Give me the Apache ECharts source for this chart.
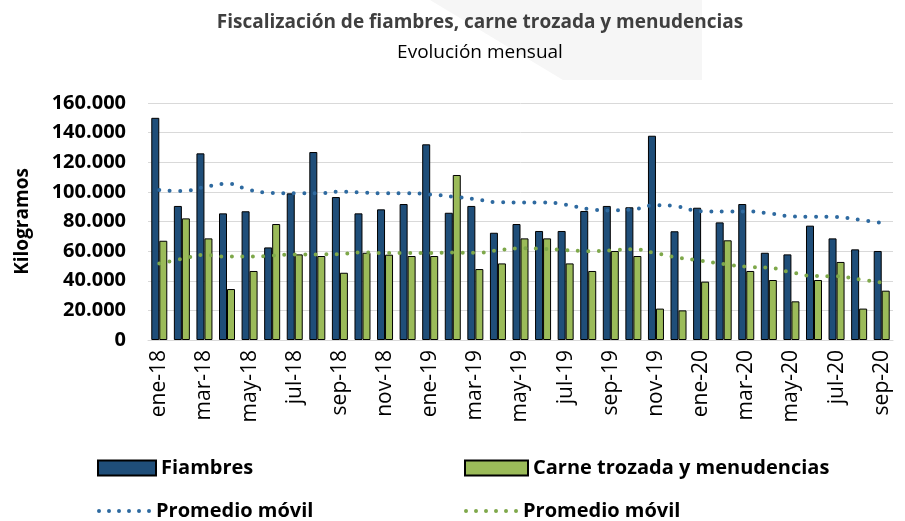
<!DOCTYPE html>
<html>
<head>
  <meta charset="utf-8">
  <title>Fiscalización mensual</title>
  <script src="https://cdn.jsdelivr.net/npm/echarts@6/dist/echarts.min.js"></script>
  <style type="text/css">
    html, body { margin: 0; padding: 0; background: #fff; }
    #chart { width: 905px; height: 521px; }
  </style>
</head>
<body>
  <div id="chart"></div>
  <script>
    // meses ene-18 .. sep-20
    var meses = ['ene-18','feb-18','mar-18','abr-18','may-18','jun-18','jul-18','ago-18','sep-18','oct-18','nov-18','dic-18',
                 'ene-19','feb-19','mar-19','abr-19','may-19','jun-19','jul-19','ago-19','sep-19','oct-19','nov-19','dic-19',
                 'ene-20','feb-20','mar-20','abr-20','may-20','jun-20','jul-20','ago-20','sep-20'];
    var fiambres = [150000, 90500, 126000, 85500, 86900, 62500, 99000, 126900, 96500, 85500, 88200, 91800,
                    132100, 85900, 90500, 72400, 78300, 73600, 73600, 87100, 90500, 89600, 137900, 73400,
                    89300, 79400, 91800, 58900, 57800, 77200, 68600, 61200, 60100];
    var carne = [67000, 82100, 68600, 34400, 46600, 78300, 57800, 56700, 45400, 58900, 57600, 56700,
                 56700, 111400, 47900, 51700, 68600, 68600, 51700, 46600, 60100, 56700, 21200, 20000,
                 39400, 67300, 46600, 40500, 26100, 40500, 52700, 21200, 33300];
    var promFiambres = [101200, 100600, 103300, 105500, 101300, 99300, 99000, 99000, 100100, 99500, 99000, 99000,
                        98300, 96800, 95000, 93000, 92900, 92900, 91400, 88400, 87500, 88200, 91000, 90000,
                        86900, 86800, 86800, 85500, 83500, 83200, 83000, 81200, 79000];
    var promCarne = [51700, 54700, 57400, 56300, 56300, 57000, 57800, 57800, 58000, 59200, 58700, 58700,
                     58700, 59000, 58900, 60500, 61900, 61500, 60700, 60000, 60500, 61200, 58500, 55600,
                     53500, 51300, 49500, 48800, 45700, 43200, 43000, 41000, 38700];

    var azul = '#1f4e79', verde = '#9bbb59';
    var puntoAzul = '#2e6aa0', puntoVerde = '#7ea84a';
    var fuente = 'Open Sans';

    // icono de puntos para la leyenda de los promedios
    var puntos = 'path://';
    for (var k = 0; k < 6; k++) {
      var cx = 2 + k * 10;
      puntos += 'M' + (cx - 2) + ' 2A2 2 0 1 0 ' + (cx + 2) + ' 2A2 2 0 1 0 ' + (cx - 2) + ' 2Z';
    }

    function leyenda(nombre, x, y, icono, ancho, alto) {
      return {
        left: x, top: y, itemWidth: ancho, itemHeight: alto,
        textStyle: { fontFamily: fuente, fontSize: 20, fontWeight: 'bold', color: '#000' },
        data: [{ name: nombre, icon: icono }]
      };
    }

    var myChart = echarts.init(document.getElementById('chart'));
    var option = {
      animation: false,
      textStyle: { fontFamily: fuente },
      title: [{
        text: 'Fiscalización de fiambres, carne trozada y menudencias',
        left: 475, top: 8, textAlign: 'center',
        textStyle: { fontFamily: fuente, fontSize: 19, fontWeight: 'bold', color: '#3f3f3f' }
      }, {
        text: 'Evolución mensual',
        left: 475, top: 38, textAlign: 'center',
        textStyle: { fontFamily: fuente, fontSize: 19, fontWeight: 'normal', color: '#000' }
      }],
      graphic: [{
        type: 'polygon', z: -10, silent: true,
        shape: { points: [[430, 0], [702, 0], [702, 80], [563, 80]] },
        style: { fill: '#f6f6f6' }
      }],
      legend: [
        leyenda('Fiambres', 92, 453, 'rect', 58, 15),
        leyenda('Promedio móvil', 92, 496, puntos, 54, 4),
        leyenda('Carne trozada y menudencias', 459, 453, 'rect', 63, 15),
        leyenda('Promedio móvil ', 459, 496, puntos, 54, 4)
      ],
      grid: { left: 148, right: 12, top: 103, bottom: 181 },
      xAxis: {
        type: 'category',
        data: meses,
        axisLine: { lineStyle: { color: '#d9d9d9', width: 1 } },
        axisTick: { show: false },
        axisLabel: { interval: 1, rotate: 90, fontSize: 21, color: '#000', margin: 10, fontFamily: fuente }
      },
      yAxis: {
        type: 'value',
        min: 0, max: 160000, interval: 20000,
        axisLine: { show: false },
        axisTick: { show: false },
        splitLine: { lineStyle: { color: '#d9d9d9', width: 1 } },
        axisLabel: {
          fontSize: 20, fontWeight: 'bold', color: '#000', margin: 22, fontFamily: fuente,
          formatter: function (v) { return String(v).replace(/\B(?=(\d{3})+(?!\d))/g, '.'); }
        },
        name: 'Kilogramos', nameLocation: 'middle', nameGap: 116, nameRotate: 90,
        nameTextStyle: { fontSize: 19, fontWeight: 'bold', color: '#000', fontFamily: fuente }
      },
      series: [{
        name: 'Fiambres', type: 'bar', data: fiambres,
        barWidth: 8, barGap: '0%',
        itemStyle: { color: azul, borderColor: '#000', borderWidth: 1 }
      }, {
        name: 'Carne trozada y menudencias', type: 'bar', data: carne,
        barWidth: 8, barGap: '0%',
        itemStyle: { color: verde, borderColor: '#000', borderWidth: 1 }
      }, {
        name: 'Promedio móvil', type: 'line', data: promFiambres,
        smooth: true, symbol: 'none', z: 5,
        itemStyle: { color: puntoAzul },
        lineStyle: { color: puntoAzul, width: 4, type: [0, 10.5], cap: 'round' }
      }, {
        name: 'Promedio móvil ', type: 'line', data: promCarne,
        smooth: true, symbol: 'none', z: 5,
        itemStyle: { color: puntoVerde },
        lineStyle: { color: puntoVerde, width: 4, type: [0, 10.5], cap: 'round' }
      }]
    };
    myChart.setOption(option);
  </script>
</body>
</html>
